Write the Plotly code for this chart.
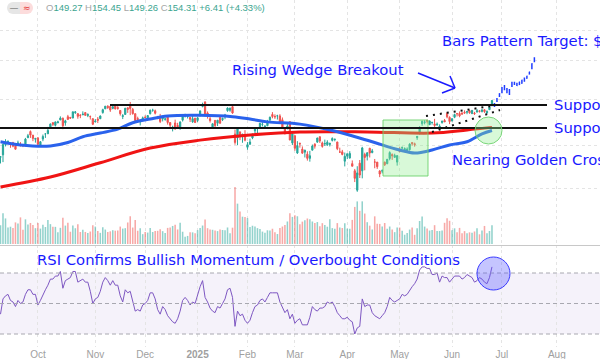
import math
import pandas as pd
import plotly.graph_objects as go

W, H = 600, 359

# ---------------- data ----------------
HOLIDAYS = ["2024-11-28", "2024-12-25", "2025-01-01", "2025-01-09", "2025-01-20",
            "2025-02-17", "2025-04-18", "2025-05-26", "2025-06-19", "2025-07-04", "2025-09-01"]
FIRST_DAY = "2024-09-10"

opens = [
    107.8, 109.4, 116.8, 119.1, 116.8, 118.2, 115.9, 117.4, 117.1, 116.6, 116.5, 122.0, 126.8, 124.0, 120.8,
    121.8, 116.4, 120.9, 124.9, 125.0, 130.3, 134.1, 131.9, 134.0, 136.5, 137.9, 134.0, 139.3, 138.7, 138.1, 142.9, 142.0, 140.8, 140.9, 143.0, 140.3, 139.5, 137.6,
    134.7, 137.2, 137.5, 143.0, 146.4, 148.8, 148.7, 146.8, 149.1, 147.6, 144.9, 139.5, 141.3, 147.4, 149.4, 145.9, 142.0, 137.7, 135.0, 136.8,
    138.8, 138.3, 142.0, 145.1, 144.6, 139.0, 139.0, 137.4, 137.1, 138.9, 134.2, 129.1, 133.9, 131.8, 129.8, 136.3, 140.0, 139.7, 138.6, 134.8, 138.0,
    136.0, 140.0, 148.6, 153.0, 142.6, 137.5, 130.0, 136.1, 133.7, 138.6, 136.7, 139.2, 144.7, 145.1, 148.4, 124.8, 121.8, 126.5, 123.1, 123.8,
    114.8, 117.0, 121.8, 127.4, 129.2, 130.1, 132.6, 130.0, 131.6, 136.5, 141.3, 139.5, 140.0, 140.0, 136.6, 130.0, 130.0, 135.0, 118.0,
    123.5, 110.7, 117.6, 113.5, 111.3, 109.9, 107.0, 112.7, 117.0, 118.6, 122.7, 118.0, 117.3, 116.6, 116.9, 119.9, 120.5, 118.7, 111.4, 111.5, 105.1,
    108.5, 107.3, 103.5, 98.9, 87.5, 103.8, 98.9, 109.7, 108.5, 114.1, 111.0, 104.6, 104.5, 98.8, 98.8, 104.5, 103.5, 106.9, 109.7, 107.7, 104.5,
    113.1, 114.2, 112.9, 111.5, 113.1, 118.3, 117.4, 122.0, 125.0, 133.2, 134.3, 136.2, 132.4, 134.3, 133.1, 132.2, 130.0, 134.2, 136.0, 142.3, 138.7,
    135.5, 138.8, 142.2, 142.2, 142.5, 143.2, 143.2, 144.6, 142.0, 142.5, 143.4, 144.5, 144.0, 145.5, 142.5, 145.6, 149.27,
]
highs = [
    108.4, 117.2, 120.8, 119.9, 118.2, 118.8, 117.7, 119.7, 118.6, 117.0, 121.8, 124.9, 127.7, 124.0, 121.5,
    122.4, 119.4, 124.4, 125.0, 130.6, 133.5, 134.5, 135.0, 135.8, 139.6, 138.6, 136.6, 140.9, 138.9, 143.7, 144.4, 142.4, 141.4, 144.1, 143.1, 142.3, 140.3, 137.6,
    137.3, 139.0, 140.4, 146.5, 148.9, 149.8, 148.9, 149.7, 149.3, 149.0, 145.2, 141.6, 147.1, 147.6, 152.9, 147.2, 142.1, 139.3, 137.2, 139.4,
    140.5, 140.6, 145.8, 146.5, 145.7, 140.0, 141.8, 140.2, 138.4, 139.6, 134.4, 131.6, 136.7, 134.0, 135.3, 139.8, 141.9, 140.9, 139.0, 140.3, 138.1,
    138.9, 144.9, 152.2, 153.1, 144.0, 139.2, 133.5, 136.4, 136.5, 138.8, 138.5, 141.8, 147.8, 147.2, 149.0, 128.4, 129.0, 126.9, 125.0, 127.9,
    118.6, 121.2, 125.0, 128.8, 130.4, 133.8, 134.5, 132.2, 136.5, 139.3, 143.4, 141.4, 141.0, 141.5, 138.6, 130.2, 133.7, 135.0, 125.1,
    123.7, 119.3, 118.3, 115.4, 113.0, 111.9, 112.2, 116.8, 117.8, 121.9, 122.9, 119.0, 120.5, 120.0, 118.0, 122.2, 121.3, 118.8, 114.5, 112.9, 111.0,
    110.2, 112.0, 105.6, 100.1, 101.8, 105.9, 115.1, 110.9, 111.0, 114.3, 113.6, 106.6, 104.5, 99.3, 99.8, 104.8, 106.5, 111.9, 110.4, 110.2, 109.0,
    114.9, 115.4, 114.7, 114.7, 117.7, 118.7, 118.2, 123.0, 131.2, 136.0, 136.3, 136.4, 135.9, 134.6, 137.4, 134.3, 132.7, 135.7, 137.3, 143.5, 139.6,
    138.1, 142.0, 142.4, 144.0, 143.3, 145.0, 144.3, 145.0, 145.0, 143.6, 146.2, 145.2, 145.7, 146.2, 144.8, 148.0, 154.45,
]
lows = [
    103.6, 104.5, 115.4, 117.6, 114.4, 114.8, 113.2, 117.0, 115.4, 114.9, 115.4, 121.6, 121.8, 119.3, 118.2,
    115.8, 115.1, 119.3, 121.8, 125.0, 129.4, 131.4, 131.0, 133.7, 136.3, 128.7, 131.6, 136.9, 137.3, 138.0, 141.8, 137.5, 138.0, 140.8, 140.1, 138.9, 136.8, 132.1,
    134.6, 133.8, 137.3, 142.0, 146.2, 146.3, 143.6, 146.0, 145.9, 145.6, 140.3, 137.2, 141.0, 142.7, 140.7, 141.1, 135.6, 135.7, 131.8, 136.3,
    137.8, 137.9, 141.3, 143.7, 141.3, 137.1, 133.8, 135.2, 135.8, 132.5, 130.4, 126.9, 128.3, 129.6, 128.2, 135.1, 138.6, 137.7, 134.7, 134.0, 133.8,
    134.6, 139.7, 147.8, 140.0, 137.6, 134.2, 129.5, 130.1, 131.3, 133.5, 135.5, 137.1, 143.7, 143.7, 141.9, 116.7, 116.3, 120.1, 118.1, 119.2,
    113.0, 116.7, 120.8, 125.2, 125.0, 129.0, 131.0, 129.1, 131.2, 135.5, 137.9, 137.4, 136.8, 134.0, 130.1, 124.4, 128.5, 120.0, 116.4,
    112.3, 110.1, 114.5, 110.2, 107.6, 105.5, 104.8, 112.6, 113.8, 118.1, 118.0, 114.5, 115.7, 115.8, 115.4, 119.1, 119.2, 112.7, 110.7, 109.1, 101.7,
    106.5, 106.8, 101.8, 92.1, 86.6, 94.5, 94.3, 99.2, 105.6, 107.6, 110.5, 100.5, 100.1, 95.0, 97.3, 102.0, 103.1, 105.7, 106.0, 107.4, 102.2,
    111.3, 113.4, 112.7, 110.8, 112.3, 115.9, 115.2, 120.3, 124.5, 131.5, 132.7, 133.5, 132.4, 132.5, 130.6, 131.6, 129.2, 133.3, 134.8, 137.9, 132.9,
    135.4, 138.0, 139.5, 138.8, 141.0, 141.9, 141.5, 141.9, 141.9, 140.9, 143.2, 143.0, 143.1, 142.7, 142.0, 145.5, 149.26,
]
closes = [
    108.1, 116.9, 119.1, 119.1, 116.8, 115.6, 113.4, 117.9, 116.0, 116.3, 120.9, 123.5, 124.0, 121.4, 121.4,
    117.0, 118.9, 122.9, 124.9, 127.7, 132.9, 132.7, 134.8, 134.8, 138.1, 131.6, 135.7, 136.9, 138.0, 143.7, 143.6, 139.6, 140.4, 141.5, 140.5, 141.3, 139.3, 132.8,
    135.4, 136.1, 139.9, 145.6, 148.9, 147.6, 145.3, 148.3, 146.3, 146.8, 142.0, 140.2, 147.0, 145.9, 146.7, 142.0, 136.0, 136.9, 135.3, 138.3,
    138.6, 140.3, 145.1, 145.1, 142.4, 138.8, 135.1, 139.3, 137.3, 134.3, 132.0, 130.4, 128.9, 130.7, 134.7, 139.7, 140.2, 139.9, 137.0, 137.5, 134.3,
    138.3, 144.5, 149.4, 140.1, 140.1, 135.9, 133.2, 131.8, 136.2, 133.6, 137.7, 140.8, 147.1, 147.2, 142.6, 118.4, 129.0, 123.7, 124.7, 120.1,
    116.7, 118.7, 124.8, 128.7, 129.8, 133.6, 132.8, 131.1, 135.3, 138.9, 139.4, 139.2, 140.1, 134.4, 130.3, 126.6, 131.3, 120.2, 124.9,
    114.1, 116.0, 117.3, 110.6, 112.7, 107.0, 108.8, 115.7, 115.6, 121.7, 119.5, 115.4, 117.5, 118.5, 117.7, 121.4, 120.7, 113.8, 111.4, 109.7, 108.4,
    110.2, 110.4, 101.8, 94.3, 97.6, 96.3, 114.3, 107.6, 110.9, 110.7, 112.2, 104.5, 101.5, 96.9, 98.9, 102.7, 106.4, 111.0, 108.7, 109.0, 108.9,
    111.6, 114.5, 113.8, 113.5, 117.1, 117.4, 116.7, 123.0, 129.9, 135.3, 134.8, 135.4, 135.6, 134.4, 131.8, 132.8, 131.3, 135.5, 134.8, 139.2, 135.1,
    137.4, 141.2, 141.9, 140.0, 141.7, 142.6, 144.0, 142.8, 145.0, 142.0, 144.7, 144.1, 145.5, 143.9, 144.2, 147.9, 154.31,
]
volumes_m = [
    268, 441, 367, 238, 248, 231, 310, 293, 382, 206, 354, 281, 302, 271, 227,
    302, 221, 277, 244, 346, 285, 246, 246, 170, 232, 377, 264, 306, 176, 264, 226, 285, 172, 205, 173, 157, 179, 270,
    250, 187, 160, 242, 207, 172, 182, 198, 191, 194, 250, 221, 227, 309, 400, 236, 344, 190, 226, 141,
    171, 164, 231, 172, 188, 189, 210, 184, 159, 231, 237, 259, 277, 209, 306, 176, 105, 116, 170, 167, 155,
    198, 229, 265, 351, 227, 207, 204, 195, 185, 209, 201, 197, 237, 155, 234, 818, 579, 467, 392, 389,
    371, 243, 262, 251, 228, 216, 178, 160, 197, 195, 219, 167, 143, 229, 251, 271, 323, 443, 389,
    411, 398, 284, 321, 341, 366, 354, 323, 300, 315, 255, 299, 273, 248, 355, 228, 220, 300, 236, 229, 299,
    221, 220, 346, 532, 611, 476, 612, 437, 313, 263, 209, 397, 292, 288, 251, 301, 220, 251, 207, 170, 235,
    236, 190, 133, 158, 207, 237, 132, 225, 330, 395, 250, 223, 193, 200, 270, 188, 186, 193, 304, 370, 333,
    197, 225, 168, 231, 153, 185, 155, 167, 162, 180, 227, 139, 193, 259, 154, 187, 269,
]
rsi = [
    43, 53, 55, 56, 52, 51, 48, 52, 50, 51, 56, 59, 59, 56, 56,
    49, 52, 56, 59, 62, 66, 66, 68, 68, 71, 60, 65, 66, 67, 71, 71, 64, 65, 66, 64, 64, 58, 50,
    53, 54, 58, 64, 67, 65, 62, 65, 62, 62, 55, 51, 59, 57, 58, 52, 45, 46, 45, 49,
    50, 52, 57, 57, 53, 46, 43, 48, 46, 42, 40, 38, 37, 40, 45, 52, 54, 52, 49, 51, 50,
    56, 61, 65, 54, 51, 47, 45, 44, 48, 47, 50, 53, 59, 60, 54, 35, 45, 42, 43, 39,
    37, 39, 44, 48, 49, 52, 53, 51, 54, 57, 57, 57, 57, 51, 47, 44, 46, 40, 43,
    37, 39, 40, 36, 36, 36, 41, 48, 46, 45, 47, 47, 48, 51, 50, 51, 48, 44, 42, 40, 40,
    41, 39, 38, 30, 34, 35, 53, 48, 49, 49, 44, 42, 41, 40, 42, 44, 48, 54, 52, 51, 52,
    53, 56, 55, 56, 59, 61, 63, 66, 72, 74, 74, 73, 73, 69, 69, 70, 64, 68, 67, 67, 64,
    66, 68, 68, 68, 66, 67, 69, 68, 67, 64, 65, 67, 66, 64, 63, 67, 74,
]
# moving averages (date, value)
ma50_dates = ["2024-09-10", "2024-09-20", "2024-10-08", "2024-10-17", "2024-10-25", "2024-11-05",
              "2024-11-14", "2024-11-22", "2024-12-04", "2024-12-13", "2025-01-03", "2025-01-24",
              "2025-02-04", "2025-02-13", "2025-03-05", "2025-03-24", "2025-04-11", "2025-05-01",
              "2025-05-09", "2025-05-20", "2025-05-30", "2025-06-10", "2025-06-18", "2025-06-25"]
ma50_vals = [118.9, 116.5, 115.8, 118.3, 122.7, 125.6, 128.8, 134.1, 137.3, 139.9, 140.5, 139.3,
             137.3, 134.8, 132.9, 127.6, 120.0, 112.8, 110.7, 112.8, 116.5, 118.9, 124.9, 127.6]
ma200_dates = ["2024-09-10", "2024-10-08", "2024-11-05", "2024-12-04", "2025-01-03", "2025-02-04",
               "2025-03-05", "2025-04-11", "2025-05-20", "2025-06-10", "2025-06-25"]
ma200_vals = [89.3, 95.1, 104.1, 114.2, 120.1, 124.1, 126.5, 126.5, 125.6, 128.1, 130.2]
# projected "bars pattern"
proj_open = [148.8, 153.5, 158.5, 162.5, 168.5, 166.0, 165.0, 168.8, 171.0, 172.0, 170.8, 172.2, 174.5, 177.8, 182.5, 189.0, 197.5]
proj_high = [151.9, 156.8, 161.7, 168.1, 170.3, 167.0, 166.0, 173.9, 173.9, 172.8, 173.9, 176.1, 178.4, 180.6, 185.2, 195.4, 203.0]
proj_low = [148.1, 152.9, 157.8, 161.7, 164.6, 161.7, 159.7, 168.1, 170.3, 169.2, 170.3, 171.6, 173.9, 177.2, 181.8, 188.0, 196.6]
proj_close = [151.2, 156.0, 161.0, 167.0, 165.5, 162.5, 160.5, 173.0, 172.8, 169.8, 173.5, 175.5, 177.8, 180.0, 184.8, 194.8, 202.0]

month_starts = ["2024-10-01", "2024-11-01", "2024-12-01", "2025-01-01", "2025-02-01", "2025-03-01",
                "2025-04-01", "2025-05-01", "2025-06-01", "2025-07-01", "2025-08-01"]
tick_labels = ["Oct", "Nov", "Dec", "<b>2025</b>", "Feb", "Mar", "Apr", "May", "Jun", "Jul", "Aug"]
header_vals = [("O", "149.27"), ("H", "154.45"), ("L", "149.26"), ("C", "154.31"), ("", "+6.41 (+4.33%)")]

# ---------------- calendar / scales ----------------
cal = pd.bdate_range(FIRST_DAY, "2025-10-31", freq="C", holidays=HOLIDAYS)
origin = int(cal.searchsorted(pd.Timestamp("2024-10-01")))


def tidx(d):
    return int(cal.searchsorted(pd.Timestamp(d))) - origin


n = len(closes)
xi = [i - origin for i in range(n)]
proj_x = [n + k - origin for k in range(len(proj_close))]
tickvals = [tidx(m) for m in month_starts]

X_RANGE = [-15.2, 225.3]

# price pane (log), pixel geometry
P_TOP, P_BOT = 0, 248
P_REF, Y_REF, KPX = 150.0, 105.0, 158.0


def price_at(ypx):
    return P_REF * math.exp((Y_REF - ypx) / KPX)


price_range = [math.log10(price_at(P_BOT)), math.log10(price_at(P_TOP))]

# volume overlay
VOL_BASE_PX = 244.0
VOL_PER_PX = 14.35
vol_lo = -(P_BOT - VOL_BASE_PX) * VOL_PER_PX
vol_range = [vol_lo, vol_lo + (P_BOT - P_TOP) * VOL_PER_PX]

# RSI pane
R_TOP, R_BOT = 250, 347
Y70, Y30 = 273.0, 334.0
rpx = (Y30 - Y70) / 40.0
rsi_range = [30 - (R_BOT - Y30) / rpx, 70 + (Y70 - R_TOP) / rpx]


def px(x):
    return x / W


def py(y):
    return 1 - y / H


UP = "#26a69a"
DN = "#ef5350"
BLUE_TXT = "#1a1aff"

fig = go.Figure()

vol_colors = ["rgba(38,166,154,0.5)" if c >= o else "rgba(239,83,80,0.5)" for o, c in zip(opens, closes)]
fig.add_trace(go.Bar(x=xi, y=volumes_m, marker_color=vol_colors, marker_line_width=0,
                     width=0.62, xaxis="x", yaxis="y3"))
fig.add_trace(go.Candlestick(
    x=xi, open=opens, high=highs, low=lows, close=closes, xaxis="x", yaxis="y",
    increasing=dict(line=dict(color=UP, width=1), fillcolor=UP),
    decreasing=dict(line=dict(color=DN, width=1), fillcolor=DN),
    whiskerwidth=0))
fig.add_trace(go.Scatter(x=[tidx(d) for d in ma200_dates], y=ma200_vals, mode="lines",
                         line=dict(color="#f01414", width=3, shape="spline", smoothing=1.0),
                         xaxis="x", yaxis="y"))
fig.add_trace(go.Scatter(x=[tidx(d) for d in ma50_dates], y=ma50_vals, mode="lines",
                         line=dict(color="#2a62ec", width=3, shape="spline", smoothing=1.0),
                         xaxis="x", yaxis="y"))
fig.add_trace(go.Ohlc(x=proj_x, open=proj_open, high=proj_high, low=proj_low, close=proj_close,
                      increasing=dict(line=dict(color="#1f3dff", width=1.5)),
                      decreasing=dict(line=dict(color="#1f3dff", width=1.5)),
                      tickwidth=0.25, xaxis="x", yaxis="y"))
fig.add_trace(go.Scatter(x=xi, y=rsi, mode="lines", line=dict(color="#7e57c2", width=1),
                         xaxis="x", yaxis="y2"))

shapes = []
# RSI band and levels
shapes.append(dict(type="rect", xref="paper", yref="y2", x0=0, x1=1, y0=30, y1=70,
                   fillcolor="rgba(126,87,194,0.08)", line=dict(width=0), layer="below"))
for lvl in (30, 50, 70):
    shapes.append(dict(type="line", xref="paper", yref="y2", x0=0, x1=1, y0=lvl, y1=lvl,
                       line=dict(color="#a8a8b0", width=1, dash="4px,3px")))
# volume base line
shapes.append(dict(type="line", xref="paper", yref="paper", x0=0, x1=1,
                   y0=py(VOL_BASE_PX + 1.5), y1=py(VOL_BASE_PX + 1.5), line=dict(color="#c8c8c8", width=1)))
# green box
shapes.append(dict(type="rect", xref="paper", yref="paper", x0=px(383), x1=px(428), y0=py(176), y1=py(120),
                   fillcolor="rgba(144,238,144,0.35)", line=dict(color="rgba(110,210,110,0.9)", width=1)))
# support lines
shapes.append(dict(type="line", xref="paper", yref="paper", x0=px(110), x1=px(547), y0=py(105), y1=py(105),
                   line=dict(color="#111111", width=2)))
shapes.append(dict(type="line", xref="paper", yref="paper", x0=0, x1=px(547), y0=py(128), y1=py(128),
                   line=dict(color="#111111", width=2)))
# rising wedge dotted lines
shapes.append(dict(type="line", xref="paper", yref="paper", x0=px(426), y0=py(116), x1=px(492), y1=py(106),
                   line=dict(color="#111111", width=2, dash="2px,5px")))
shapes.append(dict(type="line", xref="paper", yref="paper", x0=px(432), y0=py(132), x1=px(500), y1=py(110),
                   line=dict(color="#111111", width=2, dash="2px,5px")))
# golden cross circle
shapes.append(dict(type="circle", xref="paper", yref="paper", x0=px(475), x1=px(502), y0=py(144), y1=py(117),
                   fillcolor="rgba(144,238,144,0.35)", line=dict(color="rgba(110,210,110,0.9)", width=1)))
# RSI circle
shapes.append(dict(type="circle", xref="paper", yref="paper", x0=px(477), x1=px(510), y0=py(290), y1=py(257),
                   fillcolor="rgba(90,90,255,0.35)", line=dict(color="#3a3aff", width=1)))
# arrow
for (xa, ya, xb, yb) in [(418, 73, 455, 88), (455, 88, 450, 76), (455, 88, 442, 93)]:
    shapes.append(dict(type="line", xref="paper", yref="paper", x0=px(xa), y0=py(ya), x1=px(xb), y1=py(yb),
                       line=dict(color=BLUE_TXT, width=1.5)))
# header icons
shapes.append(dict(type="circle", xref="paper", yref="paper", x0=px(7), x1=px(19), y0=py(14), y1=py(2),
                   fillcolor="#e6e6e6", line=dict(width=0)))
shapes.append(dict(type="rect", xref="paper", yref="paper", x0=px(13), x1=px(20), y0=py(14), y1=py(2),
                   fillcolor="#e6e6e6", line=dict(width=0)))
shapes.append(dict(type="circle", xref="paper", yref="paper", x0=px(21), x1=px(33), y0=py(14), y1=py(2),
                   fillcolor="#fcdcdc", line=dict(width=0)))
shapes.append(dict(type="rect", xref="paper", yref="paper", x0=px(20), x1=px(27), y0=py(14), y1=py(2),
                   fillcolor="#fcdcdc", line=dict(width=0)))


def ann(text, x, y, size, color, xanchor="left", family="DejaVu Sans"):
    return dict(text=text, x=px(x), y=py(y), xref="paper", yref="paper", xanchor=xanchor, yanchor="middle",
                showarrow=False, font=dict(size=size, color=color, family=family))


header = " ".join(
    (f'<span style="color:#a6a6a6">{k}</span>' if k else "") + f'<span style="color:#3ba58f">{v}</span>'
    for k, v in header_vals)

FS = 14.8
annotations = [
    ann(header, 44, 8, 9.5, "#3ba58f", family="Liberation Sans"),
    ann("—", 14, 8, 8, "#555555", xanchor="center", family="Liberation Sans"),
    ann("≈", 27, 8, 9, "#e53935", xanchor="center", family="DejaVu Sans"),
    ann("Bars Pattern Target: $200", 440, 40.5, FS, BLUE_TXT),
    ann("Rising Wedge Breakout", 230, 70, FS, BLUE_TXT),
    ann("Support", 552, 104, FS, BLUE_TXT),
    ann("Support", 552, 128, FS, BLUE_TXT),
    ann("Nearing Golden Cross", 450, 160, FS, BLUE_TXT),
    ann("RSI Confirms Bullish Momentum / Overbought Conditions", 35, 259, FS, BLUE_TXT),
]

grid = dict(showgrid=True, gridcolor="#e4e4e4", griddash="dot", gridwidth=1)

fig.update_layout(
    width=W, height=H, margin=dict(l=0, r=0, t=0, b=0),
    paper_bgcolor="white", plot_bgcolor="white", showlegend=False,
    xaxis=dict(domain=[0, 1], range=X_RANGE, anchor="y2", tickmode="array", tickvals=tickvals,
               ticktext=tick_labels, ticks="", showline=False, zeroline=False,
               tickfont=dict(size=10, color="#a0a0a0", family="Liberation Sans"),
               rangeslider=dict(visible=False), **grid),
    yaxis=dict(domain=[py(P_BOT), py(P_TOP)], type="log", range=price_range, showticklabels=False,
               zeroline=False, tickmode="array", tickvals=[88.7, 116.3, 155.0, 199.0, 241.0], **grid),
    yaxis2=dict(domain=[py(R_BOT), py(R_TOP)], range=rsi_range, showticklabels=False, showgrid=False,
                zeroline=False),
    yaxis3=dict(overlaying="y", range=vol_range, visible=False, showgrid=False),
    shapes=shapes, annotations=annotations,
)

fig.write_html("out.html", config={"displayModeBar": False},
               post_script="document.body.style.margin='0';document.body.style.overflow='hidden';")
